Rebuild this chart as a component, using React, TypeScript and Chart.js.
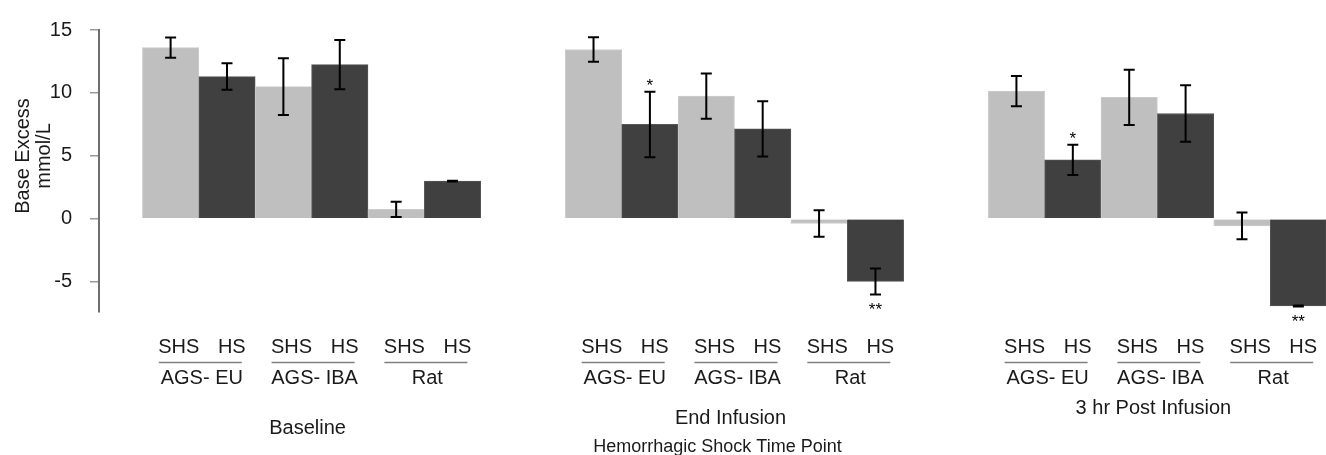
import { useEffect, useRef } from 'react';
import { Chart, registerables } from 'chart.js';

Chart.register(...registerables);

// ---- data ----
const panelTitles = ['Baseline', 'End Infusion', '3 hr Post Infusion'];
const groupLabels = ['AGS- EU', 'AGS- IBA', 'Rat'];
const conditionLabels = ['SHS', 'HS'];
const xAxisTitle = 'Hemorrhagic Shock Time Point';
const yAxisTitle = ['Base Excess', 'mmol/L'];
const yTicks = [-5, 0, 5, 10, 15];

const baselineMeans = [13.6, 11.3, 10.5, 12.25, 0.75, 3.0];
const baselineErrors = [0.8, 1.05, 2.25, 1.95, 0.6, 0.03];
const baselineMarks = ['', '', '', '', '', ''];

const endInfusionMeans = [13.45, 7.5, 9.75, 7.15, -0.37, -4.97];
const endInfusionErrors = [0.98, 2.6, 1.8, 2.2, 1.05, 1.03];
const endInfusionMarks = ['', '*', '', '', '', '**'];

const postInfusionMeans = [10.15, 4.68, 9.65, 8.37, -0.56, -6.92];
const postInfusionErrors = [1.2, 1.2, 2.2, 2.25, 1.07, 0.04];
const postInfusionMarks = ['', '*', '', '', '', '**'];

// ---- layout / style ----
const PANEL_STRIDE = 7.5; // bars per panel (6) + gap (1.5)
const X_MIN = -1.27;
const X_MAX = 20.49;
const Y_MIN = -7.4;
const Y_MAX = 15;
const COLORS = ['#bfbfbf', '#404040'];
const EDGE_COLORS = ['#cccccc', '#555555'];
const FONT = '"Liberation Sans", Arial, Helvetica, sans-serif';
const TEXT_COLOR = '#1a1a1a';

const allMeans = [baselineMeans, endInfusionMeans, postInfusionMeans];
const allErrors = [baselineErrors, endInfusionErrors, postInfusionErrors];
const allMarks = [baselineMarks, endInfusionMarks, postInfusionMarks];

type Pt = { x: number; y: number; err: number; mark: string; cond: number };
const points: Pt[] = [];
allMeans.forEach((means, p) => {
  means.forEach((m, i) => {
    points.push({ x: p * PANEL_STRIDE + i, y: m, err: allErrors[p][i], mark: allMarks[p][i], cond: i % 2 });
  });
});

const decorations = {
  id: 'decorations',
  afterDatasetsDraw(chart: any) {
    const { ctx, scales } = chart;
    const x = scales.x;
    const y = scales.y;
    ctx.save();
    ctx.strokeStyle = '#000';
    ctx.lineWidth = 2;
    ctx.fillStyle = '#000';
    ctx.font = `17px ${FONT}`;
    ctx.textAlign = 'center';
    ctx.textBaseline = 'alphabetic';
    points.forEach((pt) => {
      const px = x.getPixelForValue(pt.x);
      const top = y.getPixelForValue(pt.y + pt.err);
      const bot = y.getPixelForValue(pt.y - pt.err);
      ctx.beginPath();
      ctx.moveTo(px, top);
      ctx.lineTo(px, bot);
      ctx.moveTo(px - 5.5, top);
      ctx.lineTo(px + 5.5, top);
      ctx.moveTo(px - 5.5, bot);
      ctx.lineTo(px + 5.5, bot);
      ctx.stroke();
      if (pt.mark) {
        if (pt.y >= 0) ctx.fillText(pt.mark, px, top - 1);
        else ctx.fillText(pt.mark, px, bot + 21);
      }
    });
    ctx.restore();
  },
  afterDraw(chart: any) {
    const { ctx, scales, chartArea } = chart;
    const x = scales.x;
    const b = chartArea.bottom;
    ctx.save();
    ctx.fillStyle = TEXT_COLOR;
    ctx.textAlign = 'center';
    ctx.textBaseline = 'alphabetic';
    ctx.font = `20px ${FONT}`;
    const titleBaselines = [b + 121.5, b + 111.5, b + 101.5];
    panelTitles.forEach((title, p) => {
      groupLabels.forEach((g, gi) => {
        const gc = x.getPixelForValue(p * PANEL_STRIDE + gi * 2 + 0.5);
        ctx.fillText(conditionLabels[0], gc - 20, b + 40.5);
        ctx.fillText(conditionLabels[1], gc + 33, b + 40.5);
        ctx.fillText(g, gc + 3, b + 71.5);
        ctx.save();
        ctx.strokeStyle = '#808080';
        ctx.lineWidth = 1.5;
        ctx.beginPath();
        ctx.moveTo(gc - 40, b + 50.5);
        ctx.lineTo(gc + 43, b + 50.5);
        ctx.stroke();
        ctx.restore();
      });
      const pc = x.getPixelForValue(p * PANEL_STRIDE + 2.5);
      ctx.fillText(title, pc - 4, titleBaselines[p]);
    });
    ctx.font = `18px ${FONT}`;
    ctx.fillText(xAxisTitle, x.getPixelForValue(PANEL_STRIDE + 2.5) - 17, b + 139.5);

    // y axis title (rotated, two lines)
    ctx.font = `20px ${FONT}`;
    const yMid = chartArea.top + 126;
    [28.5, 50].forEach((bx, i) => {
      ctx.save();
      ctx.translate(bx, yMid);
      ctx.rotate(-Math.PI / 2);
      ctx.fillText(yAxisTitle[i], 0, 0);
      ctx.restore();
    });
    ctx.restore();
  },
};

export default function App() {
  const ref = useRef<HTMLCanvasElement>(null);
  useEffect(() => {
    const canvas = ref.current;
    if (!canvas) return;
    const chart = new Chart(canvas, {
      type: 'bar',
      data: {
        datasets: [
          {
            data: points.map((pt) => ({ x: pt.x, y: pt.y })),
            backgroundColor: points.map((pt) => COLORS[pt.cond]),
            borderColor: points.map((pt) => EDGE_COLORS[pt.cond]),
            borderWidth: 1,
            barPercentage: 1,
            categoryPercentage: 1,
          } as any,
        ],
      },
      options: {
        animation: false,
        responsive: false,
        devicePixelRatio: 1,
        layout: { padding: { top: 21, bottom: 143, left: 0, right: 0 } },
        plugins: { legend: { display: false }, tooltip: { enabled: false } },
        scales: {
          x: {
            type: 'linear',
            min: X_MIN,
            max: X_MAX,
            offset: false,
            display: false,
            ticks: { stepSize: 1, includeBounds: false },
          },
          y: {
            min: Y_MIN,
            max: Y_MAX,
            afterFit: (s: any) => {
              s.width = 99;
            },
            afterBuildTicks: (s: any) => {
              s.ticks = yTicks.map((v) => ({ value: v }));
            },
            ticks: {
              padding: 18,
              color: TEXT_COLOR,
              font: { family: FONT, size: 20 },
            },
            grid: {
              drawOnChartArea: false,
              drawTicks: true,
              tickLength: 9,
              color: '#9a9a9a',
              lineWidth: 1.5,
            },
            border: { color: '#6e6e6e', width: 2 },
          },
        },
      } as any,
      plugins: [decorations],
    });
    return () => chart.destroy();
  }, []);
  return (
    <div style={{ position: 'absolute', left: 0, top: 0, width: 1326, height: 455, background: '#fff' }}>
      <canvas ref={ref} width={1326} height={455} />
    </div>
  );
}
